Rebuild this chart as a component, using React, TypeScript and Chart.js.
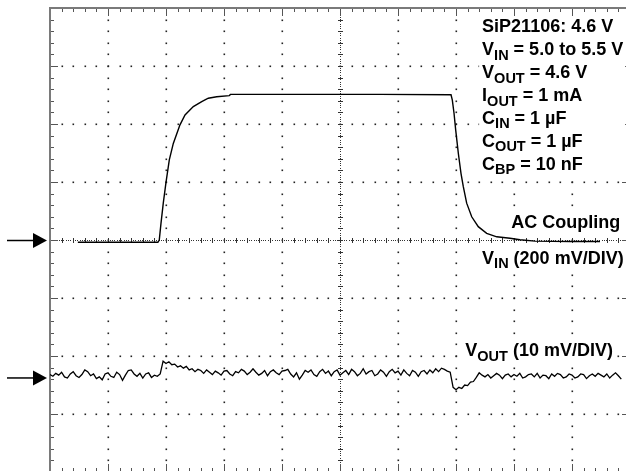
import React, { useEffect, useRef } from "react";
import { Chart, registerables } from "chart.js";

Chart.register(...registerables);

// Oscilloscope graticule: 10 horizontal divisions, 8 vertical divisions
const X_DIVS = 10;
const Y_DIVS = 8;
const VIN_MV_PER_DIV = 200;
const VOUT_MV_PER_DIV = 10;
const VOUT_MARKER_DIV = -2.37; // VOUT ground marker position (divisions from centre)

// VIN trace (time in divisions, mV relative to its marker)
const vinTime = [
  0.48, 0.86, 1.38, 1.86, 1.884, 1.914, 1.953, 2.0, 2.057, 2.126, 2.241, 2.328,
  2.471, 2.616, 2.729, 2.874, 3.091, 3.112, 4.31, 5.69, 6.914, 6.936, 6.966,
  6.995, 7.04, 7.086, 7.126, 7.184, 7.271, 7.384, 7.529, 7.702, 7.931, 8.103,
  8.362, 8.966, 9.483,
];
const vinMv = [
  -8, -8, -8, -8, 0, 58, 127, 199, 276, 333, 397, 431, 460, 477, 489, 494, 498,
  502, 502, 502, 501, 483, 437, 379, 299, 230, 184, 127, 80, 46, 23, 11, 6, 1,
  -4, -5, -5,
];

// VOUT trace: sampled every 0.05 div starting at 0 div (mV relative to its marker)
const VOUT_T0 = 0;
const VOUT_DT = 0.05;
const voutMv = [
  0.5, 0.2, 0.7, 0.4, 0.9, 0.1, -0.1, 0.6, 1.0, 0.3,
  0.0, 0.5, 1.3, 1.0, 0.3, 0.6, -0.2, 0.1, -0.4, 0.6,
  0.8, 0.2, 0.0, 0.9, 0.5, -0.5, 0.4, 1.2, 1.3, 0.6,
  0.2, 0.7, -0.1, 0.6, 0.8, 0.0, 0.4, 0.2, 0.6, 2.8,
  2.4, 2.7, 2.2, 2.3, 1.8, 2.0, 1.6, 1.9, 1.3, 1.5,
  1.0, 1.4, 1.2, 0.7, 1.3, 0.9, 0.5, 1.1, 0.8, 0.4,
  1.1, 1.2, 0.6, 0.3, 1.0, 0.8, 1.4, 1.1, 0.5, 0.9,
  1.5, 0.9, 0.4, 0.7, 1.2, 0.3, 1.0, 1.3, 0.8, 0.5,
  1.1, 1.2, 1.4, 0.6, 0.1, 0.8, -0.3, 0.4, 1.2, 0.9,
  1.3, 0.5, 0.2, 1.0, 1.4, 0.7, 1.1, 0.3, 1.0, 1.3,
  0.4, 0.8, 1.2, 0.5, 1.4, 1.0, 0.3, 0.7, 1.5, 0.6,
  1.0, 1.2, 0.3, 0.6, 1.3, 0.9, 0.2, 1.0, 1.4, 0.8,
  1.1, 0.4, 1.3, 0.7, 0.3, 1.2, 0.9, 0.2, 1.0, 1.2,
  0.6, 1.3, 0.8, 1.5, 1.0, 1.6, 1.4, 1.1, 0.9, -1.7,
  -2.1, -1.7, -1.9, -1.3, -1.4, -0.8, -0.7, 0.0, 0.8, 0.4,
  0.1, 0.5, -0.1, 0.3, 0.7, 0.4, -0.2, 0.4, 0.6, 0.1,
  0.5, 0.2, 0.7, -0.1, 0.1, 0.5, 0.6, 0.1, 0.7, -0.1,
  0.4, 0.3, -0.2, 0.6, 0.2, 0.7, 0.5, -0.1, 0.1, 0.6,
  0.4, -0.1, 0.1, 0.6, 0.5, -0.2, 0.3, 0.6, 0.2, 0.7,
  0.4, 0.1, 0.6, -0.1, 0.4, 0.8, 0.3, -0.3,
];

// Annotation texts: [text, isSubscript]
type Part = [string, boolean];
const infoLines: Part[][] = [
  [["SiP21106: 4.6 V", false]],
  [["V", false], ["IN", true], [" = 5.0 to 5.5 V", false]],
  [["V", false], ["OUT", true], [" = 4.6 V", false]],
  [["I", false], ["OUT", true], [" = 1 mA", false]],
  [["C", false], ["IN", true], [" = 1 µF", false]],
  [["C", false], ["OUT", true], [" = 1 µF", false]],
  [["C", false], ["BP", true], [" = 10 nF", false]],
];
const acLabel: Part[] = [["AC Coupling", false]];
const vinLabel: Part[] = [["V", false], ["IN", true], [" (200 mV/DIV)", false]];
const voutLabel: Part[] = [["V", false], ["OUT", true], [" (10 mV/DIV)", false]];

const MAIN_FONT = "bold 18px 'Liberation Sans', Arial, sans-serif";
const SUB_FONT = "bold 14.5px 'Liberation Sans', Arial, sans-serif";

function measureParts(ctx: CanvasRenderingContext2D, parts: Part[]) {
  let w = 0;
  for (const [t, sub] of parts) {
    ctx.font = sub ? SUB_FONT : MAIN_FONT;
    w += ctx.measureText(t).width;
  }
  return w;
}

function drawParts(ctx: CanvasRenderingContext2D, parts: Part[], x: number, y: number) {
  let cx = x;
  ctx.fillStyle = "#000";
  ctx.textBaseline = "alphabetic";
  ctx.textAlign = "left";
  for (const [t, sub] of parts) {
    ctx.font = sub ? SUB_FONT : MAIN_FONT;
    ctx.fillText(t, cx, sub ? y + 4.5 : y);
    cx += ctx.measureText(t).width;
  }
}

const graticulePlugin = {
  id: "graticule",
  beforeDatasetsDraw(chart: any) {
    const { ctx, chartArea: a } = chart;
    const xs = chart.scales.x;
    const ys = chart.scales.yVin;
    const yStep = VIN_MV_PER_DIV;
    const yMin = ys.min;
    const px = (v: number) => xs.getPixelForValue(v);
    const py = (d: number) => ys.getPixelForValue(yMin + d * yStep);
    ctx.save();
    ctx.fillStyle = "#222";
    const dot = (x: number, y: number) =>
      ctx.fillRect(Math.round(x) - 0.5, Math.round(y) - 0.5, 1.6, 1.6);
    const fine = (x: number, y: number) =>
      ctx.fillRect(Math.round(x - 0.5), Math.round(y - 0.5), 1, 1);

    // major vertical dotted lines
    for (let i = 1; i < X_DIVS; i++) {
      if (i === X_DIVS / 2) continue;
      const x = px(i);
      for (let k = 1; k < Y_DIVS * 5; k++) dot(x, py(k / 5));
    }
    // major horizontal dotted lines
    for (let j = 1; j < Y_DIVS; j++) {
      if (j === Y_DIVS / 2) continue;
      const y = py(j);
      for (let k = 1; k < X_DIVS * 5; k++) dot(px(k / 5), y);
    }
    // centre axes with fine dots and ticks
    const cx = px(X_DIVS / 2);
    const cy = py(Y_DIVS / 2);
    ctx.fillStyle = "#333";
    for (let k = 1; k < Y_DIVS * 25; k++) fine(cx, py(k / 25));
    for (let k = 1; k < X_DIVS * 25; k++) fine(px(k / 25), cy);
    ctx.strokeStyle = "#333";
    ctx.lineWidth = 1;
    ctx.beginPath();
    for (let k = 1; k < Y_DIVS * 5; k++) {
      const y = Math.round(py(k / 5)) + 0.5;
      ctx.moveTo(Math.round(cx) - 2, y);
      ctx.lineTo(Math.round(cx) + 3, y);
    }
    for (let k = 1; k < X_DIVS * 5; k++) {
      const x = Math.round(px(k / 5)) + 0.5;
      ctx.moveTo(x, Math.round(cy) - 2);
      ctx.lineTo(x, Math.round(cy) + 3);
    }
    ctx.stroke();

    // border ticks
    ctx.strokeStyle = "#555";
    ctx.beginPath();
    for (let k = 1; k < Y_DIVS * 5; k++) {
      const y = Math.round(py(k / 5)) + 0.5;
      const len = k % 5 === 0 ? 7 : 3;
      ctx.moveTo(a.left, y);
      ctx.lineTo(a.left + 1 + len, y);
      ctx.moveTo(a.right, y);
      ctx.lineTo(a.right - 1 - len, y);
    }
    for (let k = 1; k < X_DIVS * 5; k++) {
      const x = Math.round(px(k / 5)) + 0.5;
      const len = k % 5 === 0 ? 7 : 3;
      ctx.moveTo(x, a.top);
      ctx.lineTo(x, a.top + 1 + len);
      ctx.moveTo(x, a.bottom);
      ctx.lineTo(x, a.bottom - 1 - len);
    }
    ctx.stroke();

    // border
    ctx.strokeStyle = "#7a7a7a";
    ctx.lineWidth = 2;
    ctx.strokeRect(a.left, a.top, a.right - a.left, a.bottom - a.top);
    ctx.restore();
  },
  afterDatasetsDraw(chart: any) {
    const { ctx } = chart;
    const xs = chart.scales.x;
    const ys = chart.scales.yVin;
    const X = (d: number) => xs.getPixelForValue(d);
    const Y = (d: number) => ys.getPixelForValue(d * VIN_MV_PER_DIV);
    ctx.save();
    // info block
    const bx = X(7.45);
    const lineGap = 22.9;
    const firstBase = Y(3.58);
    ctx.fillStyle = "#fff";
    ctx.fillRect(bx - 3, firstBase - 16, 146, lineGap * (infoLines.length - 1) + 24);
    infoLines.forEach((ln, i) => drawParts(ctx, ln, bx, firstBase + i * lineGap));

    // AC Coupling (right aligned)
    const acRight = X(9.83);
    const acBase = Y(0.2);
    const acW = measureParts(ctx, acLabel);
    ctx.fillStyle = "#fff";
    ctx.fillRect(acRight - acW - 3, acBase - 15, acW + 5, 19);
    drawParts(ctx, acLabel, acRight - acW, acBase);

    // VIN label
    const vinX = X(7.45);
    const vinBase = Y(-0.41);
    const vinW = measureParts(ctx, vinLabel);
    ctx.fillStyle = "#fff";
    ctx.fillRect(vinX - 3, vinBase - 15, vinW + 6, 23);
    drawParts(ctx, vinLabel, vinX, vinBase);

    // VOUT label
    const voX = X(7.16);
    const voBase = Y(-2.0);
    const voW = measureParts(ctx, voutLabel);
    ctx.fillStyle = "#fff";
    ctx.fillRect(voX - 3, voBase - 15, voW + 6, 22);
    drawParts(ctx, voutLabel, voX, voBase);
    ctx.restore();
  },
  afterDraw(chart: any) {
    const { ctx, chartArea: a } = chart;
    const marks = [chart.scales.yVin.getPixelForValue(0), chart.scales.yVout.getPixelForValue(0)];
    ctx.save();
    ctx.fillStyle = "#000";
    ctx.strokeStyle = "#000";
    for (const m of marks) {
      const y = m + 0.5;
      ctx.lineWidth = 1.5;
      ctx.beginPath();
      ctx.moveTo(7, y);
      ctx.lineTo(a.left - 16, y);
      ctx.stroke();
      ctx.beginPath();
      ctx.moveTo(a.left - 17, y - 7.5);
      ctx.lineTo(a.left - 3, y);
      ctx.lineTo(a.left - 17, y + 7.5);
      ctx.closePath();
      ctx.fill();
    }
    ctx.restore();
  },
};

export default function App() {
  const ref = useRef<HTMLCanvasElement | null>(null);

  useEffect(() => {
    document.documentElement.style.overflow = "hidden";
    document.body.style.margin = "0";
    document.body.style.overflow = "hidden";
    document.body.style.background = "#fff";
    if (!ref.current) return;

    const vinPts = vinTime.map((t, i) => ({ x: t, y: vinMv[i] }));
    const voutPts = voutMv.map((v, i) => ({ x: VOUT_T0 + i * VOUT_DT, y: v }));
    const voutSpan = Y_DIVS * VOUT_MV_PER_DIV;
    const voutMax = (Y_DIVS / 2 - VOUT_MARKER_DIV) * VOUT_MV_PER_DIV;

    const chart = new Chart(ref.current, {
      type: "line",
      data: {
        datasets: [
          {
            label: "VIN",
            data: vinPts,
            yAxisID: "yVin",
            borderColor: "#000",
            borderWidth: 1.4,
            pointRadius: 0,
            tension: 0,
            fill: false,
          },
          {
            label: "VOUT",
            data: voutPts,
            yAxisID: "yVout",
            borderColor: "#000",
            borderWidth: 1.3,
            pointRadius: 0,
            tension: 0,
            fill: false,
          },
        ],
      },
      options: {
        responsive: false,
        animation: false,
        devicePixelRatio: 1,
        layout: { padding: { left: 50, top: 8, right: 10, bottom: 8 } },
        plugins: { legend: { display: false }, tooltip: { enabled: false } },
        scales: {
          x: { type: "linear", min: 0, max: X_DIVS, display: false },
          yVin: {
            type: "linear",
            axis: "y",
            position: "left",
            min: -(Y_DIVS / 2) * VIN_MV_PER_DIV,
            max: (Y_DIVS / 2) * VIN_MV_PER_DIV,
            display: false,
          },
          yVout: {
            type: "linear",
            axis: "y",
            position: "left",
            min: voutMax - voutSpan,
            max: voutMax,
            display: false,
          },
        },
      },
      plugins: [graticulePlugin],
    } as any);
    return () => chart.destroy();
  }, []);

  return (
    <div style={{ position: "fixed", left: 0, top: 0, width: 640, height: 480, background: "#fff" }}>
      <canvas ref={ref} width={640} height={480} style={{ display: "block", width: 640, height: 480 }} />
    </div>
  );
}
